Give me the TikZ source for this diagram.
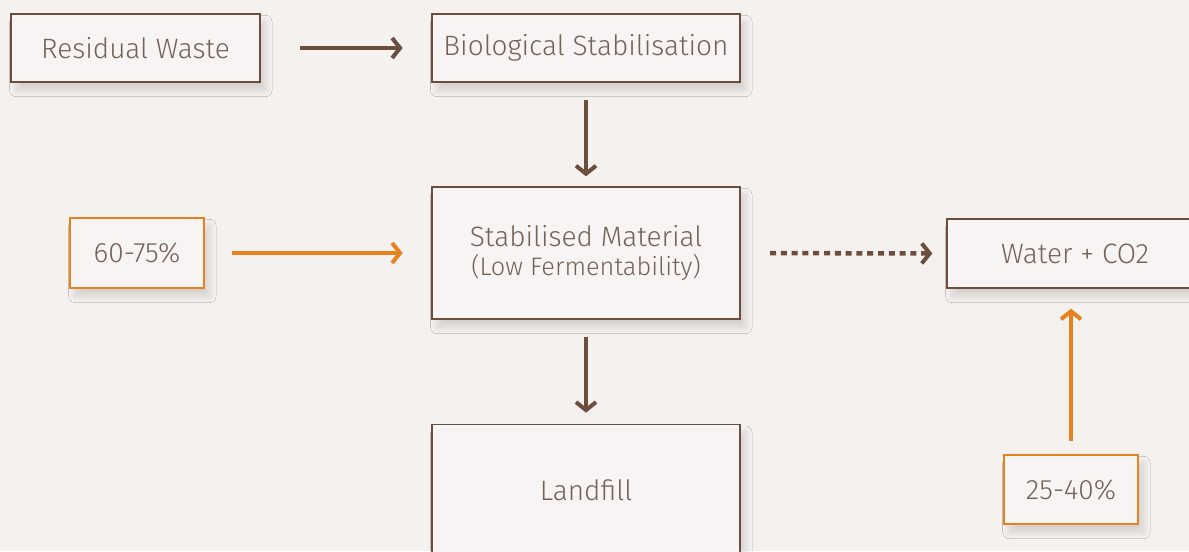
\documentclass[tikz,border=0pt]{standalone}
\usepackage{fontspec}
\setmainfont{Fira Sans Light}
\usepackage{tikz}
\usetikzlibrary{shadows.blur}
\usetikzlibrary{arrows.meta}
\usepackage{xcolor}
\definecolor{paper}{RGB}{245,241,238}
\definecolor{boxfill}{RGB}{248,244,243}
\definecolor{bark}{RGB}{107,78,62}
\definecolor{inkgrey}{RGB}{115,98,88}
\definecolor{amber}{RGB}{232,130,30}

\begin{document}
\begin{tikzpicture}[x=0.75pt,y=0.75pt,yscale=-1,xscale=1,
  stepbox/.style={draw=bark,line width=1.1pt,fill=boxfill,text=inkgrey,
    font=\fontsize{21}{23}\selectfont,align=center,inner sep=0pt,outer sep=0pt,
    blur shadow={shadow xshift=4pt,shadow yshift=-6pt,shadow opacity=14,shadow blur radius=5pt,shadow blur steps=20}},
  sharebox/.style={stepbox,draw=amber},
  flow/.style={draw=bark,line width=3.4pt,-{Straight Barb[length=6pt,width=15pt,line width=3pt]}},
  share/.style={flow,draw=amber},
  vapour/.style={flow,dash pattern=on 4.5pt off 3.6pt}]
\useasboundingbox (0,0) rectangle (1189,551);
\fill [paper] (0,0) rectangle (1189,551);

% Text Node
\node [stepbox,minimum width=186.75pt,minimum height=51pt] (waste) at (135.5,48) {Residual Waste};
% Text Node
\node [stepbox,minimum width=231pt,minimum height=51pt] (bio) at (586,48) {Biological Stabilisation};
% Text Node
\node [stepbox,minimum width=231pt,minimum height=99pt] (stab) at (586,253) {Stabilised Material\\[-1pt]{\fontsize{19}{21}\selectfont(Low Fermentability)}};
% Text Node
\node [stepbox,minimum width=231pt,minimum height=98pt] (landfill) at (586,490) {Landfill};
% Text Node
\node [sharebox,minimum width=100.5pt,minimum height=52.5pt] (solid) at (137,253) {60-75\%};
% Text Node
\node [stepbox,minimum width=192pt,minimum height=51.75pt] (water) at (1075,253.5) {Water + CO2};
% Text Node
\node [sharebox,minimum width=100.5pt,minimum height=51.75pt] (gas) at (1071,489.5) {25-40\%};

%Straight Lines
\draw [flow,shorten <=30pt,shorten >=22pt] (waste.east) -- (bio.west);
%Straight Lines
\draw [flow,shorten <=13.5pt,shorten >=8pt] (bio.south) -- (stab.north);
%Straight Lines
\draw [flow,shorten <=13.5pt,shorten >=9pt] (stab.south) -- (landfill.north);
%Straight Lines
\draw [share,shorten <=21pt,shorten >=22pt] (solid.east) -- (stab.west);
%Straight Lines
\draw [vapour,shorten <=22.5pt,shorten >=11pt] (stab.east) -- (water.west);
%Straight Lines
\draw [share,shorten <=10.5pt,shorten >=15.5pt] (gas.north) -- ([xshift=-3pt]water.south);

\end{tikzpicture}
\end{document}
